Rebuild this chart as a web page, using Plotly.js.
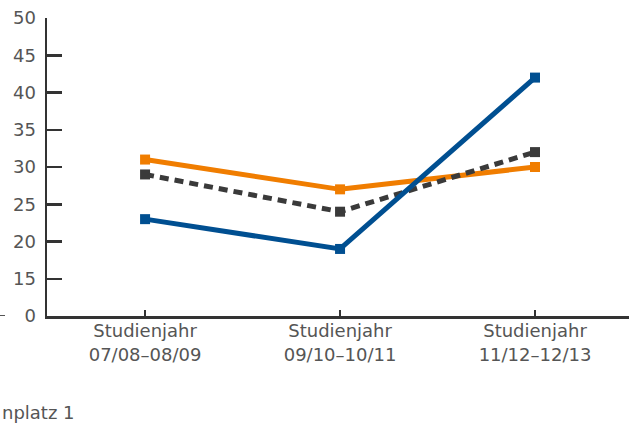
<!DOCTYPE html>
<html>
<head>
<meta charset="utf-8">
<script src="https://cdn.plot.ly/plotly-3.0.1.min.js"></script>
<style>html,body{margin:0;padding:0;background:#fff;}#chart{width:629px;height:425px;}</style>
</head>
<body>
<div id="chart"></div>
<script>
// Categories (x axis)
const categories = ["Studienjahr<br>07/08–08/09", "Studienjahr<br>09/10–10/11", "Studienjahr<br>11/12–12/13"];
// Series values
const orangeSeries = [31, 27, 30];
const darkSeries = [29, 24, 32];
const blueSeries = [23, 19, 42];
// Y tick labels (axis starts at 0 shown in place of 10: broken axis)
const yTickVals = [10, 15, 20, 25, 30, 35, 40, 45, 50];
const yTickText = ["0", "15", "20", "25", "30", "35", "40", "45", "50"];
const footnote = "nplatz 1";

const xIdx = categories.map((c, i) => i);
const font = {family: "DejaVu Sans", size: 18, color: "#555555"};

const traces = [
  {x: xIdx, y: orangeSeries, mode: "lines+markers", line: {color: "#F07D00", width: 5},
   marker: {symbol: "square", size: 10, color: "#F07D00"}},
  {x: xIdx, y: darkSeries, mode: "lines+markers", line: {color: "#3A3A3A", width: 5, dash: "9px,6px"},
   marker: {symbol: "square", size: 10, color: "#3A3A3A"}},
  {x: xIdx, y: blueSeries, mode: "lines+markers", line: {color: "#004F91", width: 5},
   marker: {symbol: "square", size: 10, color: "#004F91"}}
];

const layout = {
  width: 629, height: 425,
  margin: {l: 47, r: 0, t: 18, b: 109},
  paper_bgcolor: "#fff", plot_bgcolor: "#fff",
  showlegend: false,
  font: font,
  xaxis: {
    range: [-0.503, 2.482], tickmode: "array", tickvals: xIdx, ticktext: categories,
    showgrid: false, zeroline: false, showline: true, linecolor: "#333", linewidth: 2.5,
    ticks: "inside", ticklen: 6, tickwidth: 2, tickcolor: "#333",
    tickfont: font, fixedrange: true, ticklabelstandoff: -3
  },
  yaxis: {
    range: [10, 50], tickmode: "array", tickvals: yTickVals, ticktext: yTickText,
    showgrid: false, zeroline: false, showline: true, linecolor: "#333", linewidth: 2.5,
    ticks: "inside", ticklen: 15, tickwidth: 2.5, tickcolor: "#333",
    tickfont: font, fixedrange: true, ticklabelstandoff: 5
  },
  shapes: [
    {type: "line", xref: "paper", yref: "y", x0: -47/582, x1: -42/582, y0: 10, y1: 10,
     line: {color: "#555", width: 2}}
  ],
  annotations: [
    {text: footnote, xref: "paper", yref: "paper", x: -47/582, y: -(412-316)/298,
     xanchor: "left", yanchor: "middle", showarrow: false, font: font}
  ]
};

Plotly.newPlot("chart", traces, layout, {displayModeBar: false, staticPlot: true});
</script>
</body>
</html>
